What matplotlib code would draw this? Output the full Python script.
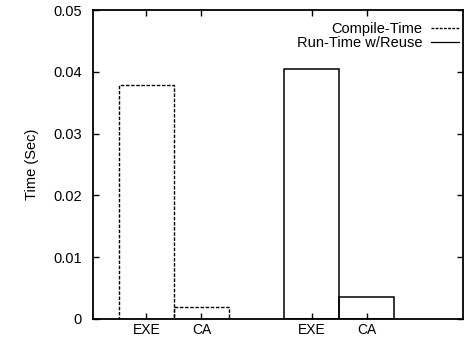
import matplotlib
matplotlib.use("Agg")
import matplotlib.pyplot as plt
from matplotlib.lines import Line2D

plt.rcParams['font.family'] = ['Liberation Sans', 'DejaVu Sans']

# data
categories = ['EXE', 'CA']
compile_time = [0.0378, 0.0019]
run_time_reuse = [0.0405, 0.0035]
pos_compile = [1, 2]
pos_reuse = [4, 5]
yticks = [0, 0.01, 0.02, 0.03, 0.04, 0.05]
ytick_labels = ['0', '0.01', '0.02', '0.03', '0.04', '0.05']

fig = plt.figure(figsize=(4.72, 3.42), dpi=100)
ax = fig.add_axes([93 / 472, 23 / 342, 370 / 472, 309 / 342])

ax.bar(pos_compile, compile_time, width=1.0, fill=False, edgecolor='black',
       linewidth=1.0, linestyle=(0, (2.5, 1.2)))
ax.bar(pos_reuse, run_time_reuse, width=1.0, fill=False, edgecolor='black',
       linewidth=1.1, linestyle='-')

ax.set_xlim(0.03, 6.75)
ax.set_ylim(0, 0.05)
ax.set_yticks(yticks)
ax.set_yticklabels(ytick_labels)
ax.set_xticks(pos_compile + pos_reuse)
ax.set_xticklabels(categories + categories)
ax.tick_params(direction='in', length=4, width=1, top=True, right=True)
ax.tick_params(axis='y', labelsize=10.5, pad=8)
ax.tick_params(axis='x', labelsize=10, pad=3)
for s in ax.spines.values():
    s.set_linewidth(1.3)

ax.set_ylabel('Time (Sec)', fontsize=10.5, labelpad=10)

handles = [Line2D([], [], color='black', lw=1.0, linestyle=(0, (2, 1))),
           Line2D([], [], color='black', lw=0.9, linestyle='-')]
leg = ax.legend(handles, ['Compile-Time', 'Run-Time w/Reuse'], loc='upper right',
                bbox_to_anchor=(1.02, 1.0), frameon=False, fontsize=10.5,
                markerfirst=False, handlelength=1.9, handletextpad=0.6,
                labelspacing=0.0, borderaxespad=0.4)
for t in leg.get_texts():
    t.set_ha('right')

fig.savefig('out.png', dpi=100)
